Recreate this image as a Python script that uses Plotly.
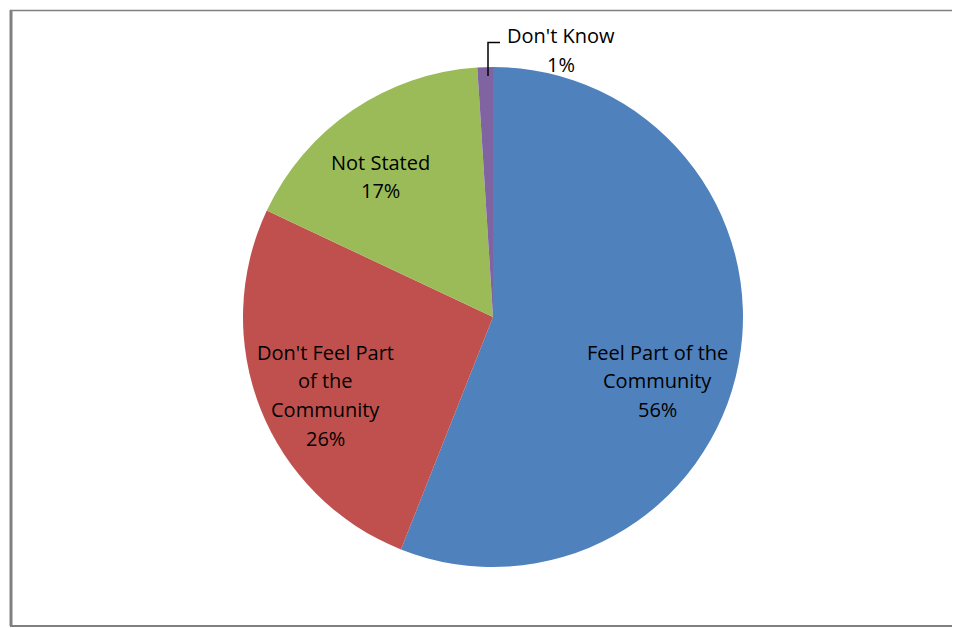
import plotly.graph_objects as go

categories = ["Feel Part of the Community", "Don't Feel Part of the Community", "Not Stated", "Don't Know"]
values = [56, 26, 17, 1]
colors = ["#4F81BD", "#C0504D", "#9BBB59", "#8064A2"]

# label lines shown on the chart (as in the original data labels)
label_lines = [
    ["Feel Part of the", "Community"],
    ["Don't Feel Part", "of the", "Community"],
    ["Not Stated"],
    ["Don't Know"],
]
# label anchor (pixel centre of first line, in page pixels) and line spacing
label_pos = [(657, 352), (325, 352), (380, 162), (561, 36)]
line_step = 28.7

W, H = 960, 628
OFF = 8  # page body margin offset
cx, cy, r = 493 - OFF, 317 - OFF, 250


def px(x):
    return (x - OFF) / W


def py(y):
    return 1 - (y - OFF) / H


fig = go.Figure(go.Pie(
    labels=categories,
    values=values,
    marker=dict(colors=colors, line=dict(width=0)),
    sort=False,
    direction="clockwise",
    rotation=0,
    textinfo="none",
    showlegend=False,
    domain=dict(x=[(cx - r) / W, (cx + r) / W], y=[(H - cy - r) / H, (H - cy + r) / H]),
))

annotations = []
for lines, v, (lx, ly) in zip(label_lines, values, label_pos):
    for i, t in enumerate(lines + [f"{v}%"]):
        annotations.append(dict(
            x=px(lx), y=py(ly + i * line_step), xref="paper", yref="paper",
            text=t, showarrow=False, xanchor="center", yanchor="middle",
            font=dict(family="Open Sans", size=20, color="#000000"),
        ))

shapes = [
    # chart frame
    dict(type="line", xref="paper", yref="paper", x0=px(10), x1=1, y0=py(10.5), y1=py(10.5),
         line=dict(color="#808080", width=1.5)),
    dict(type="line", xref="paper", yref="paper", x0=px(11), x1=px(11), y0=py(10), y1=py(626),
         line=dict(color="#808080", width=3)),
    dict(type="line", xref="paper", yref="paper", x0=px(10), x1=1, y0=py(626), y1=py(626),
         line=dict(color="#808080", width=2)),
    # leader line for "Don't Know"
    dict(type="path", xref="paper", yref="paper",
         path=f"M {px(488)},{py(76)} L {px(488)},{py(42.5)} L {px(500)},{py(42.5)}",
         line=dict(color="#000000", width=1.5)),
]

fig.update_layout(
    width=W, height=H,
    margin=dict(l=0, r=0, t=0, b=0),
    paper_bgcolor="#FFFFFF",
    plot_bgcolor="#FFFFFF",
    annotations=annotations,
    shapes=shapes,
)

fig.write_html("out.html")
